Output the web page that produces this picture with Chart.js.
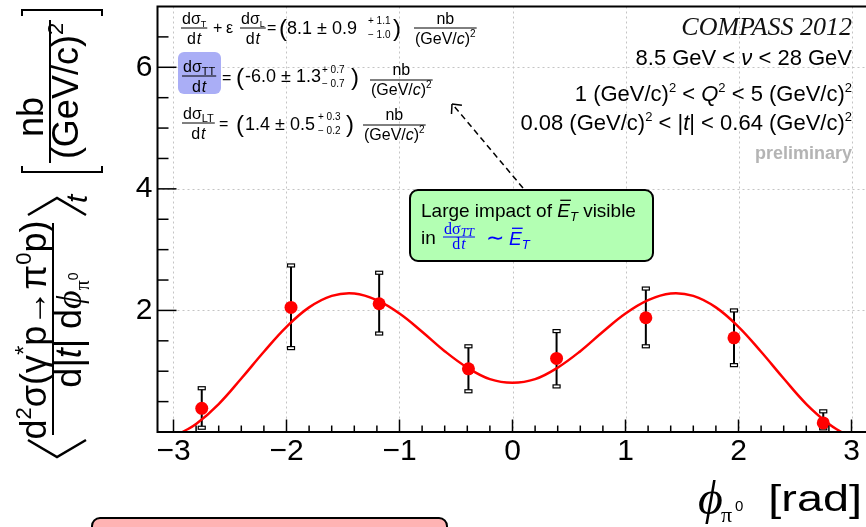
<!DOCTYPE html>
<html>
<head>
<meta charset="utf-8">
<script src="https://cdn.jsdelivr.net/npm/chart.js@4.4.0/dist/chart.umd.min.js"></script>
<style>
  html, body { margin: 0; padding: 0; background: #fff; overflow: hidden; }
  #wrap { width: 880px; height: 527px; }
</style>
</head>
<body>
<div id="wrap"><canvas id="phi-chart" width="880" height="527"></canvas></div>
<script>
// measured points (bin centres in phi), with total error band
const phiBins = [-2.75, -1.96, -1.18, -0.39, 0.39, 1.18, 1.96, 2.75];
const crossSection = [0.39, 2.05, 2.11, 1.04, 1.21, 1.88, 1.55, 0.15];
const errLow = [0.07, 1.38, 1.62, 0.67, 0.75, 1.41, 1.10, 0.06];
const errHigh = [0.72, 2.74, 2.62, 1.41, 1.66, 2.36, 2.00, 0.34];

// fit curve
const fitPhi = [-2.92, -2.8, -2.6, -2.4, -2.2, -2.0, -1.8, -1.6, -1.4, -1.2, -1.0, -0.8, -0.6, -0.4, -0.2, 0,
    0.2, 0.4, 0.6, 0.8, 1.0, 1.2, 1.4, 1.6, 1.8, 2.0, 2.2, 2.4, 2.6, 2.8, 2.91];
const fitValues = [0.0, 0.13, 0.46, 0.88, 1.32, 1.73, 2.05, 2.24, 2.28, 2.17, 1.95, 1.65, 1.33, 1.06, 0.87, 0.81,
    0.87, 1.06, 1.33, 1.65, 1.95, 2.17, 2.28, 2.24, 2.05, 1.73, 1.32, 0.88, 0.46, 0.13, 0.0];

const xTickLabels = [-3, -2, -1, 0, 1, 2, 3];
const yTickLabels = [2, 4, 6];

const SANS = "'Liberation Sans', Arial, Helvetica, sans-serif";
const SERIF = "'Liberation Serif', 'Times New Roman', 'DejaVu Serif', serif";
const BLUE = '#0000ff';

const segFont = s => `${s.st || ''} ${s.s || 16}px ${s.fam || SANS}`.trim();

const richWidth = function (ctx, segs) {
    let w = 0;
    segs.forEach(s => {
        ctx.font = segFont(s);
        w += ctx.measureText(s.t).width * (s.sx || 1) + (s.gap || 0);
    });
    return w;
}

const drawRich = function (ctx, segs, x, y, align = 'left') {
    const w = richWidth(ctx, segs);
    let cx = align === 'right' ? x - w : align === 'center' ? x - w / 2 : x;
    ctx.textAlign = 'left';
    ctx.textBaseline = 'alphabetic';
    segs.forEach(s => {
        ctx.font = segFont(s);
        ctx.fillStyle = s.c || '#000';
        const sx = s.sx || 1;
        const tw = ctx.measureText(s.t).width * sx;
        ctx.save();
        ctx.translate(cx, y + (s.dy || 0));
        ctx.scale(sx, 1);
        ctx.fillText(s.t, 0, 0);
        ctx.restore();
        if (s.over) {
            ctx.save();
            ctx.strokeStyle = s.c || '#000';
            ctx.lineWidth = 1.3;
            ctx.beginPath();
            ctx.moveTo(cx + 3, y - s.s * 0.88);
            ctx.lineTo(cx + tw + 1, y - s.s * 0.88);
            ctx.stroke();
            ctx.restore();
        }
        cx += tw + (s.gap || 0);
    });
    return w;
}

const drawFrac = function (ctx, num, den, x, barY, up, down, color) {
    const w = Math.max(richWidth(ctx, num), richWidth(ctx, den)) + 2;
    ctx.save();
    ctx.strokeStyle = color || '#000';
    ctx.lineWidth = 1;
    ctx.beginPath();
    ctx.moveTo(x, barY);
    ctx.lineTo(x + w, barY);
    ctx.stroke();
    ctx.restore();
    drawRich(ctx, num, x + w / 2, barY - up, 'center');
    drawRich(ctx, den, x + w / 2, barY + down, 'center');
    return w;
}

const polyline = function (ctx, pts) {
    ctx.beginPath();
    pts.forEach((p, i) => i ? ctx.lineTo(p[0], p[1]) : ctx.moveTo(p[0], p[1]));
    ctx.stroke();
}

const dt = (s, c, fam) => [{t: 'd', s, c, fam, gap: 1}, {t: 't', s, st: 'italic', c, fam}];
const dSigma = (sub, s, subS, c) => [{t: 'dσ', s, c}, {t: sub, s: subS, dy: 3, c}];
const nbUnit = () => [{t: 'nb', s: 16}];
const gevUnit = () => [{t: '(GeV/', s: 16}, {t: 'c', s: 16, st: 'italic'}, {t: ')', s: 16}, {t: '2', s: 10, dy: -7}];

const gridAndBars = {
    id: 'gridAndBars',
    beforeDatasetsDraw(chart) {
        const {ctx, chartArea: a, scales: {x, y}} = chart;
        ctx.save();
        ctx.strokeStyle = '#c4c4c4';
        ctx.lineWidth = 1;
        ctx.setLineDash([2, 3]);
        xTickLabels.forEach(v => {
            const px = Math.round(x.getPixelForValue(v)) + 0.5;
            polyline(ctx, [[px, a.top], [px, a.bottom]]);
        });
        yTickLabels.forEach(v => {
            const py = Math.round(y.getPixelForValue(v)) + 0.5;
            polyline(ctx, [[a.left, py], [a.right, py]]);
        });
        ctx.setLineDash([]);

        // error bars with open box caps
        phiBins.forEach((phi, i) => {
            const px = x.getPixelForValue(phi);
            const top = y.getPixelForValue(errHigh[i]);
            const bot = y.getPixelForValue(errLow[i]);
            ctx.strokeStyle = '#000';
            ctx.lineWidth = 2;
            polyline(ctx, [[px, top], [px, bot]]);
            ctx.lineWidth = 1.2;
            [top, bot].forEach(py => {
                ctx.fillStyle = '#fff';
                ctx.fillRect(px - 3.5, py - 1.5, 7, 3);
                ctx.strokeRect(px - 3.5, py - 1.5, 7, 3);
            });
        });
        ctx.restore();
    }
};

const frame = {
    id: 'frame',
    afterDatasetsDraw(chart) {
        const {ctx, chartArea: a, scales: {x, y}} = chart;
        ctx.save();
        ctx.strokeStyle = '#000';
        ctx.lineWidth = 2;
        polyline(ctx, [[a.right + 5, a.top], [a.left, a.top], [a.left, a.bottom], [a.right + 5, a.bottom]]);
        ctx.lineWidth = 1.5;
        for (let k = -15; k <= 15; k++) {
            const px = x.getPixelForValue(k * 0.2);
            const len = k % 5 === 0 ? 12.5 : 6.5;
            polyline(ctx, [[px, a.bottom], [px, a.bottom - len]]);
        }
        for (let k = 1; k <= 13; k++) {
            const py = y.getPixelForValue(k * 0.5);
            const len = k % 4 === 0 ? 19 : 11;
            polyline(ctx, [[a.left, py], [a.left + len, py]]);
        }
        ctx.restore();
    }
};

const labels = {
    id: 'labels',
    afterDraw(chart) {
        const ctx = chart.ctx;
        ctx.save();

        // top-left fit results
        drawFrac(ctx, dSigma('T', 16, 9), dt(16), 181, 28, 4, 16);
        drawRich(ctx, [{t: '+', s: 16}], 213, 33);
        drawRich(ctx, [{t: 'ε', s: 16}], 226, 33);
        drawFrac(ctx, dSigma('L', 16, 9), dt(16), 240, 28, 4, 16);
        drawRich(ctx, [{t: '=', s: 16}], 267, 33);
        drawRich(ctx, [{t: '(', s: 24}], 279, 36);
        drawRich(ctx, [{t: '8.1 ± 0.9', s: 18}], 287, 34);
        drawRich(ctx, [{t: '+ 1.1', s: 10}], 368, 24);
        drawRich(ctx, [{t: '− 1.0', s: 10}], 368, 38);
        drawRich(ctx, [{t: ')', s: 24}], 393, 36);
        drawFrac(ctx, nbUnit(), gevUnit(), 414, 28, 4, 16);

        ctx.fillStyle = '#aaaef6';
        ctx.beginPath();
        ctx.roundRect(178, 52, 43, 42, 6);
        ctx.fill();
        drawFrac(ctx, dSigma('TT', 16, 11), dt(16), 182, 76, 4, 16);
        drawRich(ctx, [{t: '=', s: 16}], 222, 83);
        drawRich(ctx, [{t: '(', s: 24}], 236, 85);
        drawRich(ctx, [{t: '-6.0 ± 1.3', s: 18}], 245, 82);
        drawRich(ctx, [{t: '+ 0.7', s: 10}], 322, 73);
        drawRich(ctx, [{t: '− 0.7', s: 10}], 322, 87);
        drawRich(ctx, [{t: ')', s: 24}], 351, 85);
        drawFrac(ctx, nbUnit(), gevUnit(), 370, 80, 5, 15);

        drawFrac(ctx, dSigma('LT', 16, 11), dt(16), 182, 123, 4, 16);
        drawRich(ctx, [{t: '=', s: 16}], 219, 129);
        drawRich(ctx, [{t: '(', s: 24}], 236, 132);
        drawRich(ctx, [{t: '1.4 ± 0.5', s: 18}], 245, 130);
        drawRich(ctx, [{t: '+ 0.3', s: 10}], 318, 120);
        drawRich(ctx, [{t: '− 0.2', s: 10}], 318, 134);
        drawRich(ctx, [{t: ')', s: 24}], 346, 132);
        drawFrac(ctx, nbUnit(), gevUnit(), 363, 125, 5, 15);

        // top-right kinematic range
        const R = 852;
        drawRich(ctx, [{t: 'COMPASS 2012', s: 26, st: 'italic', fam: SERIF, c: '#111'}], R, 35, 'right');
        drawRich(ctx, [{t: '8.5 GeV < ', s: 22}, {t: 'ν', s: 22, st: 'italic'}, {t: ' < 28 GeV', s: 22}], R, 65, 'right');
        drawRich(ctx, [{t: '1 (GeV/c)', s: 22}, {t: '2', s: 13, dy: -9}, {t: ' < ', s: 22},
            {t: 'Q', s: 22, st: 'italic'}, {t: '2', s: 13, dy: -9}, {t: ' < 5 (GeV/c)', s: 22},
            {t: '2', s: 13, dy: -9}], R, 101, 'right');
        drawRich(ctx, [{t: '0.08 (GeV/c)', s: 22}, {t: '2', s: 13, dy: -9}, {t: ' < |', s: 22},
            {t: 't', s: 22, st: 'italic'}, {t: '| < 0.64 (GeV/c)', s: 22}, {t: '2', s: 13, dy: -9}], R, 130, 'right');
        drawRich(ctx, [{t: 'preliminary', s: 18, st: 'bold', c: '#b4b4b4'}], R, 159, 'right');

        // dashed arrow
        ctx.strokeStyle = '#000';
        ctx.lineWidth = 1.5;
        ctx.setLineDash([6, 4]);
        polyline(ctx, [[523, 188], [454, 106]]);
        ctx.setLineDash([]);
        const ang = Math.atan2(188 - 106, 523 - 454);
        [ang - 0.75, ang + 0.75].forEach(t => {
            polyline(ctx, [[452, 104], [452 + 10 * Math.cos(t), 104 + 10 * Math.sin(t)]]);
        });

        // green note
        ctx.fillStyle = '#b3ffb3';
        ctx.strokeStyle = '#000';
        ctx.lineWidth = 2;
        ctx.beginPath();
        ctx.roundRect(410, 190, 243, 71, 8);
        ctx.fill();
        ctx.stroke();
        drawRich(ctx, [{t: 'Large impact of ', s: 19}, {t: 'E', s: 19, st: 'italic', over: true},
            {t: 'T', s: 13, st: 'italic', dy: 4}, {t: ' visible', s: 19}], 421, 217);
        drawRich(ctx, [{t: 'in', s: 19}], 421, 244);
        drawFrac(ctx, [{t: 'dσ', s: 16, fam: SERIF, c: BLUE}, {t: 'TT', s: 12, st: 'italic', fam: SERIF, dy: 2, c: BLUE}],
            dt(16, BLUE, SERIF), 443, 237, 3, 12, BLUE);
        drawRich(ctx, [{t: '∼', s: 22, c: BLUE, gap: 5}, {t: 'E', s: 19, st: 'italic', over: true, c: BLUE},
            {t: 'T', s: 13, st: 'italic', dy: 4, c: BLUE}], 486, 245);

        // pink note (cut at the bottom)
        ctx.fillStyle = '#ffb3b3';
        ctx.strokeStyle = '#000';
        ctx.lineWidth = 2;
        ctx.beginPath();
        ctx.roundRect(92, 518, 355, 40, 8);
        ctx.fill();
        ctx.stroke();

        // x title
        drawRich(ctx, [{t: 'ϕ', s: 48, st: 'italic', fam: SERIF}], 698, 514);
        drawRich(ctx, [{t: 'π', s: 22, fam: SERIF}], 721, 522);
        drawRich(ctx, [{t: '0', s: 15}], 735, 511);
        drawRich(ctx, [{t: '[rad]', s: 36, sx: 1.3}], 862, 511, 'right');

        // y title, rotated
        ctx.translate(0, chart.height);
        ctx.rotate(-Math.PI / 2);
        ctx.strokeStyle = '#000';
        ctx.lineWidth = 2.5;
        polyline(ctx, [[87, 28], [70, 57], [87, 86]]);
        drawRich(ctx, [{t: 'd', s: 36}, {t: '2', s: 22, dy: -15}, {t: 'σ(γ', s: 36}, {t: '*', s: 24, dy: -14},
            {t: 'p→π', s: 36}, {t: '0', s: 22, dy: -15}, {t: 'p)', s: 36}], 197, 46, 'center');
        ctx.lineWidth = 2;
        polyline(ctx, [[92, 53], [304, 53]]);
        drawRich(ctx, [{t: 'd|', s: 36}, {t: 't', s: 36, st: 'italic'}, {t: '| d', s: 36},
            {t: 'ϕ', s: 36, st: 'italic', fam: SERIF}, {t: 'π', s: 20, fam: SERIF, dy: 8},
            {t: '0', s: 14, dy: -3}], 197, 81, 'center');
        ctx.lineWidth = 2.5;
        polyline(ctx, [[312, 28], [329, 57], [312, 86]]);
        drawRich(ctx, [{t: 't', s: 30, st: 'italic'}], 324, 87);
        ctx.lineWidth = 2;
        polyline(ctx, [[361, 22], [355, 22], [355, 102], [361, 102]]);
        drawRich(ctx, [{t: 'nb', s: 36}], 410, 43, 'center');
        polyline(ctx, [[364, 50], [507, 50]]);
        drawRich(ctx, [{t: '(GeV/c)', s: 36}, {t: '2', s: 22, dy: -15}], 436, 78, 'center');
        polyline(ctx, [[511, 22], [517, 22], [517, 102], [511, 102]]);

        ctx.restore();
    }
};

const initPhiChart = function () {
    const el = document.querySelector('#phi-chart');
    return new Chart(el, {
        type: 'scatter',
        data: {
            datasets: [{
                type: 'line',
                label: 'fit',
                data: fitPhi.map((p, i) => ({x: p, y: fitValues[i]})),
                borderColor: '#ff0000',
                borderWidth: 2.5,
                pointRadius: 0,
                tension: 0.4,
                fill: false,
                order: 2,
            }, {
                label: 'COMPASS 2012',
                data: phiBins.map((p, i) => ({x: p, y: crossSection[i]})),
                backgroundColor: '#ff0000',
                borderColor: '#ff0000',
                borderWidth: 0,
                pointRadius: 6.5,
                pointHoverRadius: 6.5,
                order: 1,
            }]
        },
        options: {
            responsive: false,
            animation: false,
            devicePixelRatio: 1,
            layout: {padding: {top: 6, right: 12.5, left: 0, bottom: 0}},
            plugins: {legend: {display: false}, tooltip: {enabled: false}},
            scales: {
                x: {
                    type: 'linear',
                    min: -Math.PI,
                    max: Math.PI,
                    grid: {display: false, drawTicks: false},
                    border: {display: false},
                    ticks: {
                        font: {size: 30, family: SANS},
                        color: '#000',
                        padding: 2,
                        maxRotation: 0,
                        callback: v => v < 0 ? '−' + Math.abs(v) : String(v),
                    },
                    afterBuildTicks: s => { s.ticks = xTickLabels.map(v => ({value: v})); },
                    afterFit: s => { s.height = 95; s.paddingLeft = 0; s.paddingRight = 0; },
                },
                y: {
                    min: 0,
                    max: 7,
                    grid: {display: false, drawTicks: false},
                    border: {display: false},
                    ticks: {
                        font: {size: 30, family: SANS},
                        color: '#000',
                        padding: 5,
                    },
                    afterBuildTicks: s => { s.ticks = yTickLabels.map(v => ({value: v})); },
                    afterFit: s => { s.width = 157.5; s.paddingTop = 0; s.paddingBottom = 0; },
                }
            }
        },
        plugins: [gridAndBars, frame, labels],
    });
}

initPhiChart();
</script>
</body>
</html>
